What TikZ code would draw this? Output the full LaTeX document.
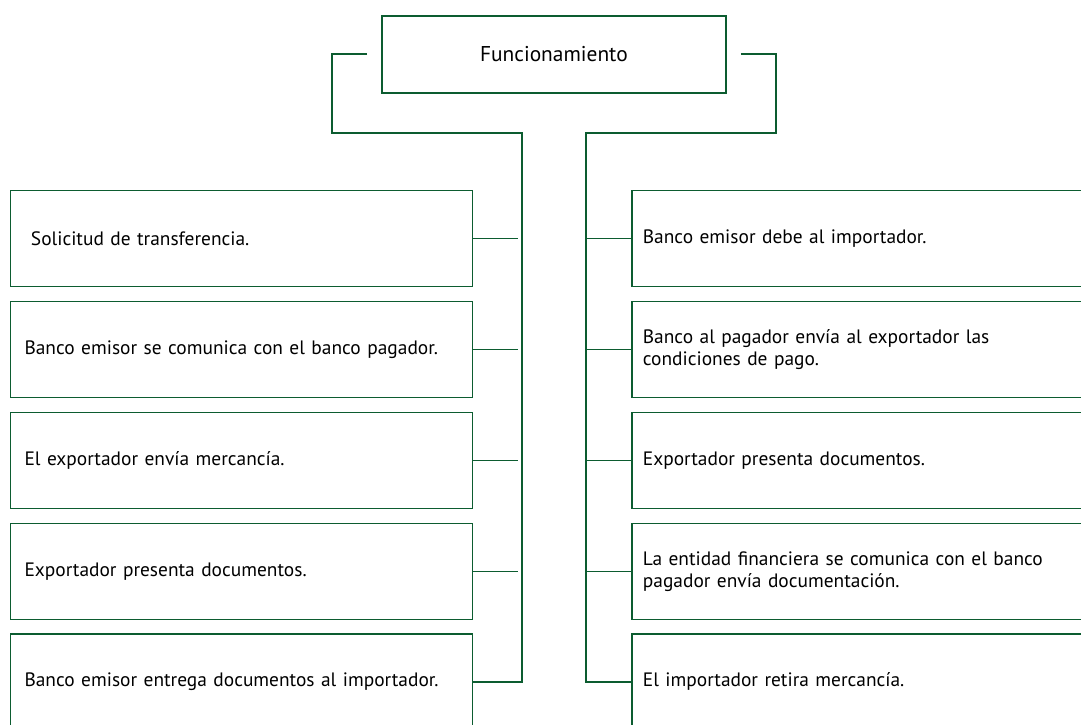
\documentclass[tikz,border=0pt]{standalone}
\usepackage{fontspec}
\setmainfont{PT Sans}
\usetikzlibrary{positioning}
\definecolor{verde}{RGB}{12,92,48}
\tikzset{
  caja/.style={draw=verde, line width=1.8pt, rectangle, anchor=north west,
    minimum height=96pt, inner xsep=14pt, text width=434pt, align=left,
    font=\fontsize{19.4}{22}\selectfont},
  linea/.style={draw=verde, line width=1.8pt}
}
\begin{document}
\begin{tikzpicture}[x=1pt,y=-1pt]
	\useasboundingbox (0,0) rectangle (1081,724);
	\clip (0,0) rectangle (1081,724);
	% Caja de arriba
	\node[draw=verde, line width=1.8pt, minimum width=344pt, minimum height=77pt,
	  font=\fontsize{21.4}{24}\selectfont] (func) at (553.9,54.3) {Funcionamiento};
	% Cajas de la izquierda
	\node[caja] (izq1) at (9.6,189.5) {\ Solicitud de transferencia.};
	\node[caja] (izq2) at (9.6,300.5) {Banco emisor se comunica con el banco pagador.};
	\node[caja] (izq3) at (9.6,411.5) {El exportador envía mercancía.};
	\node[caja] (izq4) at (9.6,522.5) {Exportador presenta documentos.};
	\node[caja] (izq5) at (9.6,633) {Banco emisor entrega documentos al importador.};
	% Cajas de la derecha (se salen por la derecha)
	\node[caja, inner xsep=11pt, text width=500pt] (der1) at (631,189.5) {Banco emisor debe al importador.};
	\node[caja, inner xsep=11pt, text width=500pt] (der2) at (631,300.5) {Banco al pagador envía al exportador las\\condiciones de pago.};
	\node[caja, inner xsep=11pt, text width=500pt] (der3) at (631,411.5) {Exportador presenta documentos.};
	\node[caja, inner xsep=11pt, text width=500pt] (der4) at (631,522.5) {La entidad financiera se comunica con el banco\\pagador envía documentación.};
	\node[caja, inner xsep=11pt, text width=500pt] (der5) at (631,633) {El importador retira mercancía.};
	% Troncos
	\coordinate (troncoI) at (522,133.3);
	\coordinate (troncoD) at (586,133.3);
	\draw[linea] ([xshift=-14pt]func.west) -- ++(-35,0) |- (troncoI) -- (troncoI |- izq5.east) -- (izq5.east);
	\draw[linea] ([xshift=14pt]func.east) -- ++(35,0) |- (troncoD) -- (troncoD |- der5.west) -- (der5.west);
	% Ramas
	\foreach \n in {1,...,4}
	  \draw[linea] (izq\n.east) -- ++(45,0);
	\foreach \n in {1,...,4}
	  \draw[linea] (troncoD |- der\n.west) -- (der\n.west);
\end{tikzpicture}
\end{document}
